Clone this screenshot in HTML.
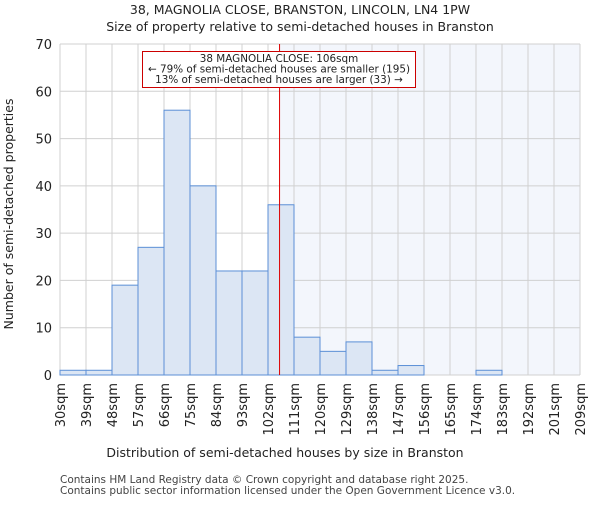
<!DOCTYPE html>
<html><head><meta charset="utf-8"><style>
body{margin:0;background:#fff;}
svg{font-family:"DejaVu Sans","Liberation Sans",sans-serif;}
</style></head><body>
<svg id="c" width="600" height="500">
<rect width="600" height="500" fill="#fff"/>
<text x="300" y="14" text-anchor="middle" font-size="12.5" fill="#222">38, MAGNOLIA CLOSE, BRANSTON, LINCOLN, LN4 1PW</text>
<text x="300" y="31" text-anchor="middle" font-size="12.5" fill="#222">Size of property relative to semi-detached houses in Branston</text>
<g id="grid"></g><g id="bars"></g><g id="ann"></g><g id="axes"></g>
<text x="285" y="457" text-anchor="middle" font-size="12.5" fill="#222">Distribution of semi-detached houses by size in Branston</text>
<text transform="translate(13,214) rotate(-90)" text-anchor="middle" font-size="12.5" fill="#222">Number of semi-detached properties</text>
<text x="60" y="483" font-size="10.5" fill="#444">Contains HM Land Registry data © Crown copyright and database right 2025.</text>
<text x="60" y="494" font-size="10.5" fill="#444">Contains public sector information licensed under the Open Government Licence v3.0.</text>
</svg>
<script>
const binEdges=[30,39,48,57,66,75,84,93,102,111,120,129,138,147,156,165,174,183,192,201,209];
const counts=[1,1,19,27,56,40,22,22,36,8,5,7,1,2,0,0,1,0,0,0];
const yTicks=[0,10,20,30,40,50,60,70];
const markerValue=106;
const NS="http://www.w3.org/2000/svg";
const L=60,R=580,T=44,B=375,ymax=70;
const xs=i=>L+(R-L)*i/counts.length;
const xv=v=>{for(let i=0;i<binEdges.length-1;i++){if(v<=binEdges[i+1]){return xs(i)+(v-binEdges[i])/(binEdges[i+1]-binEdges[i])*(xs(i+1)-xs(i));}}return R;};
const ys=v=>B-(B-T)*v/ymax;
function mk(p,t,a){const e=document.createElementNS(NS,t);for(const k in a)e.setAttribute(k,a[k]);document.getElementById(p).appendChild(e);return e;}
const mx=xv(markerValue);
let e=mk('grid','rect',{x:mx,y:T,width:R-mx,height:B-T,fill:'#f3f6fc'});


for(let i=0;i<binEdges.length;i++){e=mk('grid','line',{x1:xs(i),x2:xs(i),y1:T,y2:B,stroke:'#d0d0d0','stroke-width':1});

}
yTicks.forEach(v=>{e=mk('grid','line',{x1:L,x2:R,y1:ys(v),y2:ys(v),stroke:'#d0d0d0','stroke-width':1});


const t=mk('axes','text',{x:L-8,y:ys(v)+5,'text-anchor':'end','font-size':13,fill:'#222'});t.textContent=v;

});
counts.forEach((c,i)=>{if(c<=0)return;e=mk('bars','rect',{x:xs(i),y:ys(c),width:xs(i+1)-xs(i),height:B-ys(c),fill:'#dce6f4',stroke:'#5b8fd6','stroke-width':1});

});
binEdges.forEach((v,i)=>{const t=mk('axes','text',{transform:`translate(${xs(i)+5},383) rotate(-90)`,'text-anchor':'end','font-size':13,fill:'#222'});t.textContent=v+'sqm';

});
e=mk('ann','line',{x1:mx,x2:mx,y1:T,y2:B,stroke:'#dd0000','stroke-width':1});


e=mk('ann','rect',{x:142.5,y:51.5,width:273,height:36,fill:'#fff',stroke:'#cc0000','stroke-width':1});


['38 MAGNOLIA CLOSE: 106sqm','← 79% of semi-detached houses are smaller (195)','13% of semi-detached houses are larger (33) →'].forEach((s,i)=>{const t=mk('ann','text',{x:279,y:62+i*10.5,'text-anchor':'middle','font-size':10.4,fill:'#222'});t.textContent=s;

});
</script>
</body></html>
